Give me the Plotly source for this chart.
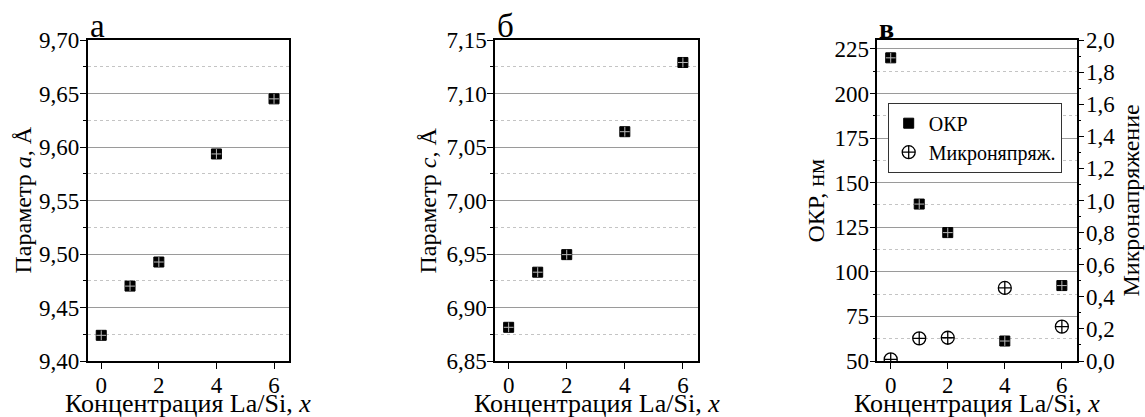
import plotly.graph_objects as go

# ---- data ----
conc = [0, 1, 2, 4, 6]
param_a = [9.424, 9.470, 9.4925, 9.5935, 9.645]
param_c = [6.8815, 6.933, 6.9494, 7.0643, 7.129]
okr = [220, 138, 122, 61.2, 92.3]
micro = [0.01, 0.141, 0.145, 0.455, 0.214]
x_ticks = [0, 2, 4, 6]
panel_labels = ["а", "б", "в"]
x_title = "Концентрация La/Si, <i>x</i>"
ya_title = "Параметр <i>a</i>, Å"
yc_title = "Параметр <i>c</i>, Å"
okr_title = "ОКР, нм"
micro_title = "Микронапряжение"
legend_names = ["ОКР", "Микроняпряж."]

W, H = 1145, 417
FONT = "'Liberation Serif', 'Times New Roman', Times, serif"
MT, MB = 40, 56
PH = H - MT - MB

def dom(x0, x1):
    return [x0 / W, x1 / W]

fig = go.Figure()

sq = dict(symbol="square", size=10, color="black", line=dict(color="black", width=1))
cr = dict(symbol="cross-thin", size=7, color="#bbbbbb", line=dict(color="#bbbbbb", width=1))

# panel a
fig.add_trace(go.Scatter(x=conc, y=param_a, mode="markers", marker=sq, xaxis="x", yaxis="y", showlegend=False))
fig.add_trace(go.Scatter(x=conc, y=param_a, mode="markers", marker=cr, xaxis="x", yaxis="y", showlegend=False))
# panel b
fig.add_trace(go.Scatter(x=conc, y=param_c, mode="markers", marker=sq, xaxis="x2", yaxis="y2", showlegend=False))
fig.add_trace(go.Scatter(x=conc, y=param_c, mode="markers", marker=cr, xaxis="x2", yaxis="y2", showlegend=False))
# panel c
fig.add_trace(go.Scatter(x=conc, y=okr, mode="markers", marker=sq, name=legend_names[0], xaxis="x3", yaxis="y3"))
fig.add_trace(go.Scatter(x=conc, y=okr, mode="markers", marker=cr, xaxis="x3", yaxis="y3", showlegend=False))
fig.add_trace(go.Scatter(x=conc, y=micro, mode="markers",
                         marker=dict(symbol="circle-cross-open", size=13, color="black", line=dict(color="black", width=1.3)),
                         name=legend_names[1], xaxis="x3", yaxis="y4"))

tickfont = dict(family=FONT, size=23, color="black")
titlefont = dict(family=FONT, size=24, color="black")
xtitlefont = dict(family=FONT, size=26, color="black")

def xax(d):
    return dict(domain=d, range=[-0.47, 6.52], tickvals=x_ticks, ticks="outside", ticklen=6,
                tickwidth=1, tickcolor="black", showline=True, linecolor="black", linewidth=1.5,
                mirror=True, showgrid=False, zeroline=False, tickfont=tickfont,
                ticklabelstandoff=-3)

def yax(anchor, rng, dtick, mdtick, fmt, mirror=True):
    return dict(anchor=anchor, range=rng, dtick=dtick, tick0=rng[0], tickformat=fmt,
                ticks="outside", ticklen=6, tickwidth=1, tickcolor="black",
                showline=True, linecolor="black", linewidth=1.5, mirror=mirror,
                showgrid=True, gridcolor="#9a9a9a", gridwidth=1, zeroline=False,
                tickfont=tickfont, ticklabelstandoff=-4,
                minor=dict(dtick=mdtick, ticks="outside", ticklen=3, tickcolor="black",
                           showgrid=True, gridcolor="#c4c4c4", griddash="dot", gridwidth=1))

fig.update_layout(
    width=W, height=H,
    margin=dict(l=0, r=0, t=MT, b=MB, autoexpand=False),
    paper_bgcolor="white", plot_bgcolor="white",
    separators=", ",
    font=dict(family=FONT, color="black"),
    xaxis=xax(dom(87.7, 289)),
    yaxis=yax("x", [9.40, 9.70], 0.05, 0.025, ".2f"),
    xaxis2=xax(dom(495, 698)),
    yaxis2=yax("x2", [6.85, 7.15], 0.05, 0.025, ".2f"),
    xaxis3=xax(dom(877.3, 1076.7)),
    yaxis3=yax("x3", [50, 230], 25, 12.5, "d", mirror=False),
    yaxis4=dict(anchor="x3", overlaying="y3", side="right", range=[0, 2.0], dtick=0.2, tick0=0,
                tickformat=".1f", ticks="outside", ticklen=6, tickwidth=1, tickcolor="black",
                showline=True, linecolor="black", linewidth=1.5, showgrid=False, zeroline=False,
                tickfont=tickfont, ticklabelstandoff=-3,
                minor=dict(dtick=0.1, ticks="outside", ticklen=3, tickcolor="black", showgrid=False)),
    legend=dict(x=887.7 / W, y=(H - MB - 102.7) / PH, xanchor="left", yanchor="top",
                bgcolor="white", bordercolor="#333333", borderwidth=1,
                font=dict(family=FONT, size=20, color="black"), itemwidth=30,
                tracegroupgap=0),
)

def px_x(px):
    return px / W

def px_y(py):
    return (H - MB - py) / PH

# panel letters and x titles
for lab, x0, x1, bold in zip(panel_labels, [87.7, 495, 877.3], [289, 698, 1076.7], [False, False, True]):
    fig.add_annotation(text=f"<b>{lab}</b>" if bold else lab, xref="paper", yref="paper",
                       x=px_x(x0), y=1.0, xanchor="left", yanchor="bottom", showarrow=False,
                       yshift=-6, font=dict(family=FONT, size=28 if bold else 33, color="black"))
    fig.add_annotation(text=x_title, xref="paper", yref="paper",
                       x=px_x((x0 + x1) / 2), y=px_y(403), xanchor="center", yanchor="middle",
                       showarrow=False, font=xtitlefont)

# y titles
for txt, xc in zip([ya_title, yc_title, okr_title, micro_title], [22, 427, 815, 1130]):
    fig.add_annotation(text=txt, xref="paper", yref="paper", x=px_x(xc), y=px_y(200.5),
                       xanchor="center", yanchor="middle", textangle=-90, showarrow=False,
                       font=titlefont)

fig.write_html("out.html")
